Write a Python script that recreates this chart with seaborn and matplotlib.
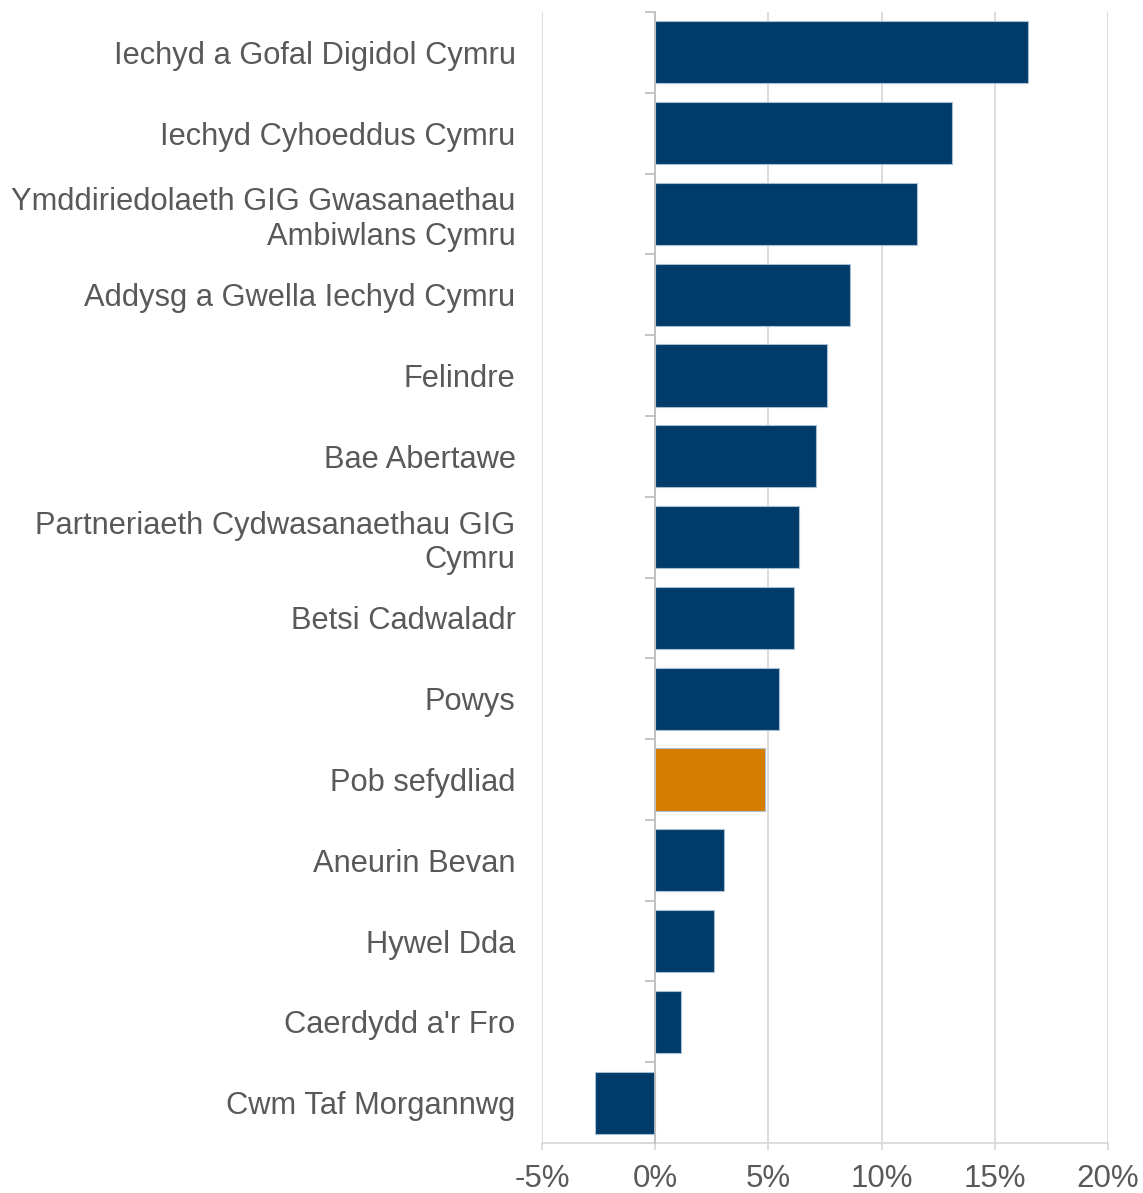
import numpy as np
import pandas as pd
import matplotlib
matplotlib.use("Agg")
import matplotlib.pyplot as plt
import seaborn as sns
from matplotlib.ticker import FixedLocator, FuncFormatter

categories = [
    "Iechyd a Gofal Digidol Cymru",
    "Iechyd Cyhoeddus Cymru",
    "Ymddiriedolaeth GIG Gwasanaethau\nAmbiwlans Cymru",
    "Addysg a Gwella Iechyd Cymru",
    "Felindre",
    "Bae Abertawe",
    "Partneriaeth Cydwasanaethau GIG\nCymru",
    "Betsi Cadwaladr",
    "Powys",
    "Pob sefydliad",
    "Aneurin Bevan",
    "Hywel Dda",
    "Caerdydd a'r Fro",
    "Cwm Taf Morgannwg",
]
values = [16.45, 13.1, 11.55, 8.6, 7.6, 7.1, 6.35, 6.15, 5.45, 4.85, 3.05, 2.6, 1.15, -2.65]
highlight = "Pob sefydliad"
x_ticks = [-5, 0, 5, 10, 15, 20]

navy = "#003B6A"
orange = "#D67C00"
text_col = "#595959"
grid_col = "#D9D9D9"

sns.set_theme(style="white")
plt.rcParams["font.family"] = ["Liberation Sans", "DejaVu Sans"]

df = pd.DataFrame({"cat": categories, "val": values})
palette = {c: (orange if c == highlight else navy) for c in categories}

fig = plt.figure(figsize=(11.43, 11.93), dpi=100)
ax = fig.add_axes([542 / 1143, 1 - 1143 / 1193, 566 / 1143, 1131 / 1193])

sns.barplot(data=df, x="val", y="cat", hue="cat", palette=palette, legend=False,
            orient="h", width=0.77, saturation=1, edgecolor="#A9BED2", linewidth=0.8,
            ax=ax, zorder=3)

ax.set_xlim(-5, 20)
ax.xaxis.set_major_locator(FixedLocator(x_ticks))
ax.xaxis.set_major_formatter(FuncFormatter(lambda v, p: f"{v:.0f}%"))
ax.grid(axis="x", color=grid_col, linewidth=1.3, zorder=0)
ax.grid(axis="y", visible=False)
ax.set_axisbelow(True)

for s in ["top", "right"]:
    ax.spines[s].set_visible(False)
ax.spines["bottom"].set_color(grid_col)
ax.spines["bottom"].set_linewidth(1.3)
ax.spines["left"].set_position(("data", 0))
ax.spines["left"].set_color("#BFBFBF")
ax.spines["left"].set_linewidth(1.3)
ax.spines["left"].set_zorder(4)

n = len(categories)
ax.yaxis.set_minor_locator(FixedLocator(np.arange(-0.5, n, 1.0)))
ax.tick_params(axis="y", which="minor", left=True, length=7, width=1.3, color="#BFBFBF")
ax.tick_params(axis="y", which="major", left=True, length=0, pad=100.5,
               labelsize=22.2, labelcolor=text_col)
for t in ax.get_yticklabels():
    t.set_linespacing(1.18)
ax.tick_params(axis="x", which="major", bottom=True, length=5, width=1.3, color=grid_col,
               labelsize=22.5, labelcolor=text_col, pad=10)
ax.set_xlabel("")
ax.set_ylabel("")

fig.savefig("out.png", dpi=100)
